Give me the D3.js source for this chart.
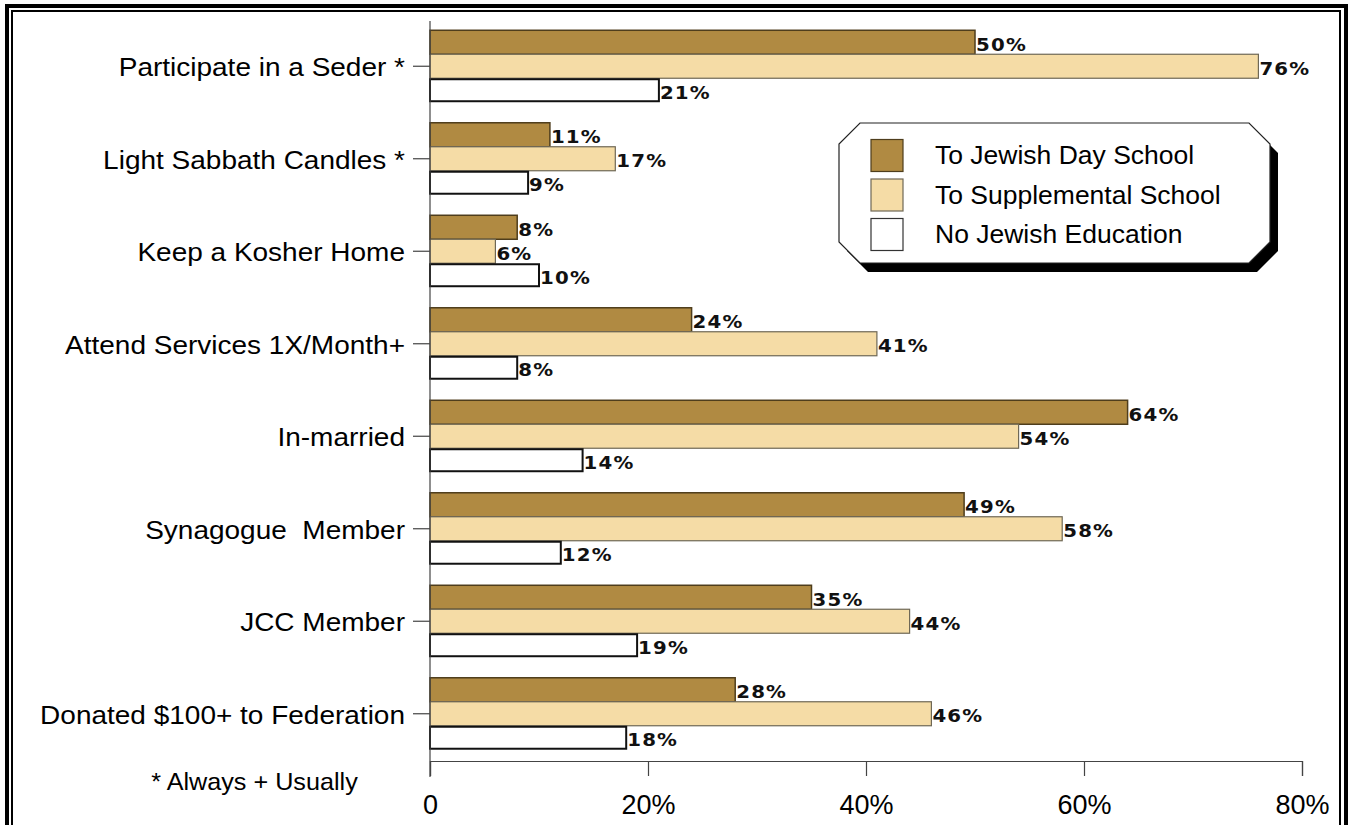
<!DOCTYPE html>
<html>
<head>
<meta charset="utf-8">
<script src="https://cdn.jsdelivr.net/npm/d3@7"></script>
<style>
  html, body { margin: 0; padding: 0; background: #fff; }
  svg { display: block; }
  svg text { white-space: pre; }
</style>
</head>
<body>
<svg id="chart" width="1348" height="825"></svg>
<script>
// Jewish practices of adults by type of childhood Jewish education
const categories = [
  "Participate in a Seder *",
  "Light Sabbath Candles *",
  "Keep a Kosher Home",
  "Attend Services 1X/Month+",
  "In-married",
  "Synagogue  Member",
  "JCC Member",
  "Donated $100+ to Federation"
];
const seriesNames = ["To Jewish Day School", "To Supplemental School", "No Jewish Education"];
const daySchool    = [50, 11, 8, 24, 64, 49, 35, 28];
const supplemental = [76, 17, 6, 41, 54, 58, 44, 46];
const noEducation  = [21, 9, 10, 8, 14, 12, 19, 18];
const xTicks = [0, 20, 40, 60, 80];
const xTickLabels = ["0", "20%", "40%", "60%", "80%"];
const footnote = "* Always + Usually";

const seriesValues = [daySchool, supplemental, noEducation];
const fills   = ["#b08a42", "#f5dca6", "#ffffff"];
const strokes = ["#4e3d1c", "#6f6856", "#111111"];
const strokeW = [1.5, 1.2, 2];
const sansFont = "Liberation Sans, Arial, sans-serif";

const svg = d3.select("#chart");

// double frame
svg.append("rect").attr("x", 7).attr("y", 6).attr("width", 1339).attr("height", 900)
  .attr("fill", "none").attr("stroke", "#000").attr("stroke-width", 4);
svg.append("rect").attr("x", 12).attr("y", 11).attr("width", 1328).attr("height", 900)
  .attr("fill", "none").attr("stroke", "#000").attr("stroke-width", 2);

const x = d3.scaleLinear().domain([0, 80]).range([430, 1302]);
const y = d3.scaleBand().domain(categories).range([20, 760])
  .paddingInner(0.222).paddingOuter(0.111);
const ySub = d3.scaleBand().domain(d3.range(3)).range([0, y.bandwidth()]);

// bars with value labels
const groups = svg.append("g").selectAll("g")
  .data(categories).join("g")
  .attr("transform", d => `translate(0,${y(d)})`);

groups.each(function(cat, ci) {
  const g = d3.select(this);
  seriesValues.forEach((vals, si) => {
    const v = vals[ci];
    const sw = strokeW[si];
    g.append("rect")
      .attr("x", x(0))
      .attr("y", ySub(si) + (si === 2 ? sw / 2 : 0))
      .attr("width", x(v) - x(0))
      .attr("height", ySub.bandwidth() - (si === 2 ? sw : 0))
      .attr("fill", fills[si])
      .attr("stroke", strokes[si])
      .attr("stroke-width", sw);
    g.append("text")
      .attr("transform", `translate(${x(v) + 1},${ySub(si) + ySub.bandwidth() / 2 + 8.5}) scale(1.07,1)`)
      .attr("font-family", "DejaVu Sans")
      .attr("font-weight", "bold")
      .attr("font-size", 18.5)
      .attr("letter-spacing", 1.1)
      .attr("fill", "#111")
      .text(v + "%");
  });
});

// x axis
const xAxis = svg.append("g").attr("transform", "translate(0,761)")
  .call(d3.axisBottom(x).tickValues(xTicks).tickSize(15).tickFormat((d, i) => xTickLabels[i]));
xAxis.select(".domain").attr("stroke", "#444").attr("stroke-width", 1.2);
xAxis.selectAll(".tick line").attr("stroke", "#444").attr("stroke-width", 1.2);
xAxis.selectAll(".tick text")
  .attr("font-family", sansFont)
  .attr("font-size", 27).attr("fill", "#000").attr("dy", 0).attr("y", 53);

// y axis
const yAxis = svg.append("g").attr("transform", "translate(430,0)")
  .call(d3.axisLeft(y).tickSize(17).tickSizeOuter(0).tickPadding(8));
yAxis.select(".domain").attr("stroke", "#444").attr("stroke-width", 1.2)
  .attr("d", "M0,21V777");
yAxis.selectAll(".tick line").attr("stroke", "#444").attr("stroke-width", 1.2);
yAxis.selectAll(".tick text")
  .attr("x", 0)
  .attr("transform", "translate(-25,1) scale(1.12,1)")
  .attr("font-family", sansFont)
  .attr("font-size", 25).attr("fill", "#000").attr("dy", "0.35em");

// footnote
svg.append("text")
  .attr("transform", "translate(254.5,790) scale(1.05,1)")
  .attr("text-anchor", "middle")
  .attr("font-family", sansFont)
  .attr("font-size", 24).attr("fill", "#000")
  .text(footnote);

// legend
const lx0 = 839, ly0 = 123, lx1 = 1270, ly1 = 263, c = 21;
const oct = [[lx0 + c, ly0], [lx1 - c, ly0], [lx1, ly0 + c], [lx1, ly1 - c],
             [lx1 - c, ly1], [lx0 + c, ly1], [lx0, ly1 - c], [lx0, ly0 + c]];
const legend = svg.append("g");
legend.append("polygon")
  .attr("points", oct.map(p => [p[0] + 8, p[1] + 9].join(",")).join(" "))
  .attr("fill", "#000");
legend.append("polygon")
  .attr("points", oct.map(p => p.join(",")).join(" "))
  .attr("fill", "#fff").attr("stroke", "#222").attr("stroke-width", 1.2);

seriesNames.forEach((name, i) => {
  const cy = 155.5 + i * 39.5;
  legend.append("rect")
    .attr("x", 871).attr("y", cy - 16).attr("width", 32).attr("height", 32)
    .attr("fill", fills[i]).attr("stroke", i === 2 ? "#333" : strokes[i]).attr("stroke-width", 1.2);
  legend.append("text")
    .attr("transform", `translate(935,${cy}) scale(1.06,1)`)
    .attr("dy", "0.35em")
    .attr("font-family", sansFont)
    .attr("font-size", 25).attr("fill", "#000")
    .text(name);
});
</script>
</body>
</html>
